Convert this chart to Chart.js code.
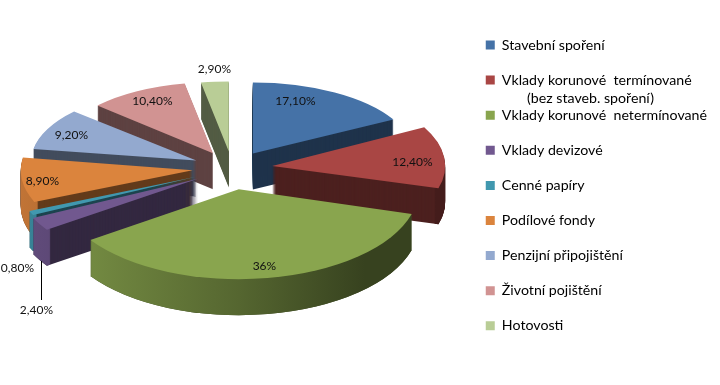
<!DOCTYPE html>
<html>
<head>
<meta charset="utf-8">
<style>
  html, body { margin: 0; padding: 0; background: #fff; }
  #wrap { width: 720px; height: 385px; }
</style>
<script src="https://cdn.jsdelivr.net/npm/chart.js@4"></script>
</head>
<body>
<div id="wrap"><canvas id="pie" width="720" height="385"></canvas></div>
<script>
// data
const categories = [
  "Stavební spoření",
  "Vklady korunové  termínované",
  "Vklady korunové  netermínované",
  "Vklady devizové",
  "Cenné papíry",
  "Podílové fondy",
  "Penzijní připojištění",
  "Životní pojištění",
  "Hotovosti"
];
const shares = [17.1, 12.4, 36, 2.4, 0.8, 8.9, 9.2, 10.4, 2.9];
const shareLabels = ["17,10%", "12,40%", "36%", "2,40%", "0,80%", "8,90%", "9,20%", "10,40%", "2,90%"];
const legendSecondLine = "(bez staveb. spoření)";
const colors = ["#4572a7", "#a94644", "#89a54e", "#71588f", "#4198af", "#db843d", "#93a9cf", "#d19392", "#b9cd96"];

// back to front
const drawOrder = [0, 8, 7, 6, 5, 4, 3, 1, 2];
// label centres, relative to the pie centre
const labelOffsets = [[63, -67], [180, -6], [32, 98], [-196, 142], [-215, 100], [-190, 13], [-161, -33], [-80, -67], [-18, -99]];
// on-screen half axes of each slice, the 3D view shrinks the far side
const radiusX = [160, 173, 180, 183, 181, 172, 165, 156, 154];
const radiusY = [71, 81, 90, 90, 88, 81, 73, 71, 70];

const RADIUS = 168;
const EXPLODE = 40;
const DEPTH = 36;
const SHIFT_Y = -18; // legend forces a taller chart area than the pie needs

function shade(hex, f) {
  const n = parseInt(hex.slice(1), 16);
  const c = [n >> 16, (n >> 8) & 255, n & 255].map(v => Math.round(v * f));
  return `rgb(${c[0]},${c[1]},${c[2]})`;
}

function project(arc, i) {
  const mid = (arc.startAngle + arc.endAngle) / 2;
  const sx = radiusX[i] / RADIUS;
  const sy = radiusY[i] / RADIUS;
  return { sx, sy, dx: Math.cos(mid) * EXPLODE, dy: Math.sin(mid) * EXPLODE * sy };
}

function drawCopy(ctx, arc, p, lift, fill, props) {
  const copy = Object.create(arc);
  copy.options = Object.assign({}, arc.options, { backgroundColor: fill, borderWidth: 0 });
  Object.assign(copy, props);
  ctx.save();
  ctx.translate(arc.x + p.dx, arc.y + SHIFT_Y + p.dy + lift);
  ctx.scale(p.sx, p.sy);
  ctx.translate(-arc.x, -arc.y);
  copy.draw(ctx);
  ctx.restore();
}

const pie3d = {
  id: "pie3d",
  beforeDatasetsDraw(chart) {
    const ctx = chart.ctx;
    const arcs = chart.getDatasetMeta(0).data;
    drawOrder.forEach(i => {
      const arc = arcs[i];
      const p = project(arc, i);
      const base = colors[i];

      // radial walls
      for (let d = DEPTH; d > 0; d--) drawCopy(ctx, arc, p, d, shade(base, 0.45));

      // outer wall, only the part that faces the viewer
      const from = Math.max(arc.startAngle, 0);
      const to = Math.min(arc.endAngle, Math.PI);
      if (to > from) {
        const grad = ctx.createLinearGradient(arc.x - RADIUS, 0, arc.x + RADIUS, 0);
        grad.addColorStop(0, shade(base, 0.88));
        grad.addColorStop(0.5, shade(base, 0.62));
        grad.addColorStop(0.85, shade(base, 0.4));
        for (let d = DEPTH; d > 0; d--) {
          drawCopy(ctx, arc, p, d, grad, {
            startAngle: from, endAngle: to, circumference: to - from, innerRadius: RADIUS - 4
          });
        }
      }

      drawCopy(ctx, arc, p, 0, base);
    });
    return false; // the default flat pie is not wanted
  },
  afterDraw(chart) {
    const ctx = chart.ctx;
    const arc0 = chart.getDatasetMeta(0).data[0];
    const cx = arc0.x, cy = arc0.y + SHIFT_Y;

    ctx.save();
    ctx.font = "12px Lato";
    ctx.fillStyle = "#111";
    ctx.textAlign = "center";
    ctx.textBaseline = "middle";
    shareLabels.forEach((t, i) => ctx.fillText(t, cx + labelOffsets[i][0], cy + labelOffsets[i][1]));

    // leader line of the 2,40% label
    const lx = Math.round(cx - 191) + 0.5;
    const ly = Math.round(cy + 93);
    ctx.strokeStyle = "#000";
    ctx.lineWidth = 1;
    ctx.beginPath();
    ctx.moveTo(lx, ly);
    ctx.lineTo(lx, ly + 39);
    ctx.stroke();

    // second row of the second legend entry
    ctx.font = "14.2px Lato";
    ctx.fillStyle = "#000";
    ctx.textAlign = "left";
    ctx.fillText(legendSecondLine, 527, 98);
    ctx.restore();
  }
};

new Chart(document.getElementById("pie"), {
  type: "pie",
  data: {
    labels: categories,
    datasets: [{ data: shares, backgroundColor: colors, borderWidth: 0 }]
  },
  plugins: [pie3d],
  options: {
    responsive: false,
    animation: false,
    events: [],
    radius: RADIUS,
    layout: { padding: { top: 17, right: 3, bottom: 30, left: 0 } },
    plugins: {
      tooltip: { enabled: false },
      legend: {
        position: "right",
        align: "start",
        labels: {
          boxWidth: 9,
          boxHeight: 9,
          padding: 20.9,
          color: "#000",
          font: { family: "Lato", size: 14.2 }
        }
      }
    }
  }
});
</script>
</body>
</html>
